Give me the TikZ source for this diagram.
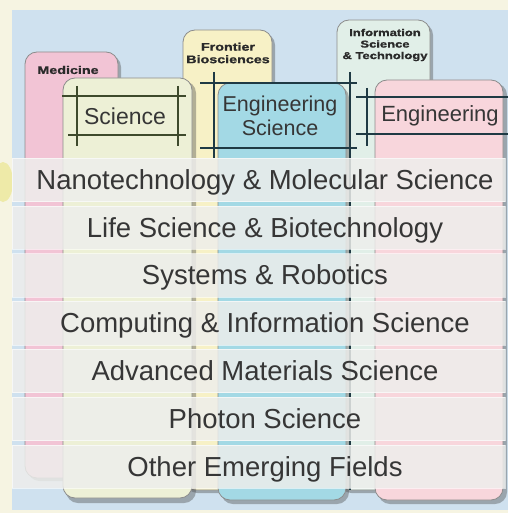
\documentclass[tikz,border=0pt]{standalone}
\usepackage{fontspec}
\setmainfont{Liberation Sans}
\newfontfamily\tagfont[FakeStretch=1.3,FakeBold=1.2]{Liberation Sans Bold}
\usetikzlibrary{calc}
\definecolor{bgblue}{HTML}{CFE1EF}
\definecolor{cream}{HTML}{F6F4E2}
\definecolor{blobyel}{HTML}{EEEAA8}
\definecolor{medpink}{HTML}{F2C4D5}
\definecolor{scigreen}{HTML}{EDF0D6}
\definecolor{frontyel}{HTML}{F7F1C6}
\definecolor{engblue}{HTML}{A3D9E5}
\definecolor{infomint}{HTML}{E1EFE8}
\definecolor{engpink}{HTML}{F8D6DC}
\definecolor{scline}{HTML}{3E4A2C}
\definecolor{esline}{HTML}{1F3A44}
\definecolor{txt}{HTML}{363636}
\definecolor{tagtxt}{HTML}{2A2A2A}
\definecolor{rowgray}{HTML}{EEEEEC}
\begin{document}
\begin{tikzpicture}[x=1pt,y=-1pt,
  cardshadow/.style={rounded corners=12pt, fill=black!70, fill opacity=0.4},
  card/.style={rounded corners=12pt, draw=black!45, line width=0.8pt},
  rowbox/.style={fill=rowgray, fill opacity=0.84, draw=white, draw opacity=0.6, line width=0.6pt},
  rowtext/.style={font=\fontsize{27.5}{30}\selectfont, text=txt, anchor=base, inner sep=0pt},
  tag/.style={font=\tagfont\fontsize{11}{12.5}\selectfont, text=tagtxt, align=center, inner sep=0pt},
  smalltag/.style={font=\tagfont\fontsize{10}{11.5}\selectfont, text=tagtxt, align=center, inner sep=0pt},
  cardlabel/.style={text=txt, align=center, inner sep=0pt},
  sframe/.style={draw=scline, line width=1.3pt},
  eframe/.style={draw=esline, line width=1.5pt}]
\useasboundingbox (0,0) rectangle (508,513);
% background
\fill[cream] (0,0) rectangle (508,513);
\begin{scope}
  \clip (0,0) rectangle (12,513);
  \fill[blobyel] (3,182) ellipse [x radius=10pt, y radius=20pt];
\end{scope}
\fill[bgblue] (12,10) rectangle (508,510);

% back cards
\fill[cardshadow] (27.5,55) rectangle (121,481);
\filldraw[card, fill=medpink] (25,52) rectangle (118,478);
\fill[cardshadow] (185.5,33) rectangle (275,493);
\filldraw[card, fill=frontyel] (183,30) rectangle (272,490);
\fill[cardshadow] (339.5,23) rectangle (433,493);
\filldraw[card, fill=infomint] (337,20) rectangle (430,490);

\node[tag] (med) at (68,70) {Medicine};
\node[tag] (front) at (228,53) {Frontier\\Biosciences};
\node[smalltag] (info) at (385,45) {Information\\Science\\\& Technology};

% front cards
\fill[cardshadow] (66,81) rectangle (196,503);
\filldraw[card, fill=scigreen] (63,78) rectangle (192,498);
\fill[cardshadow] (221,86) rectangle (349,504);
\filldraw[card, fill=engblue] (218,83) rectangle (346,500);
\fill[cardshadow] (378,83) rectangle (507,504);
\filldraw[card, fill=engpink] (375,80) rectangle (503,500);

% frame lines
\draw[sframe] (62,96) -- (186,96);
\draw[sframe] (68,135) -- (186,135);
\draw[sframe] (77,86) -- (77,146);
\draw[sframe] (178,86) -- (178,146);
\draw[eframe] (200,83) -- (357,83);
\draw[eframe] (200,148) -- (357,148);
\draw[eframe] (214,72) -- (214,158);
\draw[eframe] (350,72) -- (350,490);
\draw[eframe] (356,97) -- (508,97);
\draw[eframe] (356,134) -- (508,134);
\draw[eframe] (367,88) -- (367,146);

\node[cardlabel, font=\fontsize{23}{25}\selectfont] (sci) at (125,116) {Science};
\node[cardlabel, font=\fontsize{21.5}{24.5}\selectfont] (engsci) at (280,116) {Engineering\\Science};
\node[cardlabel, font=\fontsize{22}{25}\selectfont] (eng) at (440,116) {Engineering};

% field rows
\foreach \i/\lab in {0/{Nanotechnology \& Molecular Science},
                     1/{Life Science \& Biotechnology},
                     2/{Systems \& Robotics},
                     3/{Computing \& Information Science},
                     4/{Advanced Materials Science},
                     5/{Photon Science},
                     6/{Other Emerging Fields}}{
  \pgfmathsetmacro{\yt}{158+47.8*\i}
  \pgfmathsetmacro{\yb}{\yt+43.5}
  \pgfmathsetmacro{\yc}{\yt+21.75+9.5}
  \path[rowbox] (12,\yt) rectangle (505,\yb);
  \node[rowtext] (row\i) at (265,\yc) {\lab};
}
\end{tikzpicture}
\end{document}
